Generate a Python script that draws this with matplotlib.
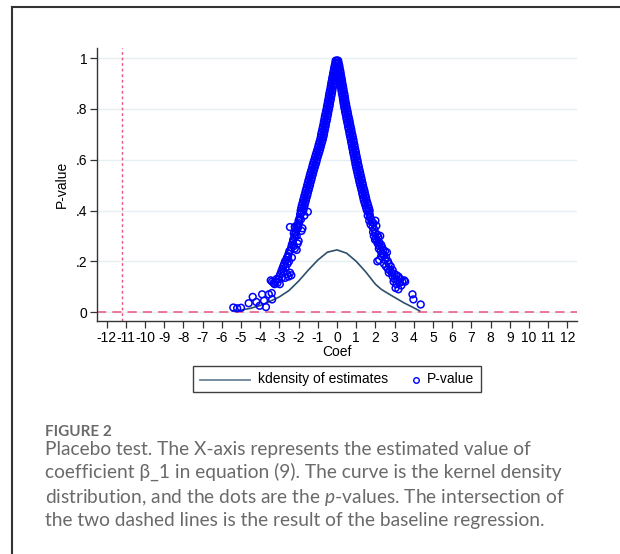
import matplotlib
matplotlib.use("Agg")
import matplotlib.pyplot as plt
from matplotlib.lines import Line2D
from matplotlib.offsetbox import DrawingArea, TextArea, HPacker, AnchoredOffsetbox

# ---------------- data ----------------
# upper part of the p-value cloud: p levels with two coefficient readings each
upper_p = [0.99, 0.98, 0.97, 0.96, 0.95, 0.94, 0.93, 0.92, 0.91, 0.90,
           0.89, 0.88, 0.87, 0.86, 0.85, 0.84, 0.83, 0.82, 0.81, 0.80,
           0.79, 0.78, 0.77, 0.76, 0.75, 0.74, 0.73, 0.72, 0.71, 0.70,
           0.69, 0.68, 0.67, 0.66, 0.65, 0.64, 0.63, 0.62, 0.61, 0.60,
           0.59, 0.58, 0.57, 0.56, 0.55, 0.54, 0.53, 0.52, 0.51, 0.50,
           0.49, 0.48, 0.47, 0.46, 0.45, 0.44, 0.43, 0.42, 0.41, 0.40]
left_in = [0.02, -0.01, -0.02, -0.04, -0.06, -0.08, -0.11, -0.13, -0.15, -0.18,
           -0.20, -0.23, -0.25, -0.27, -0.30, -0.32, -0.35, -0.37, -0.39, -0.42,
           -0.45, -0.47, -0.50, -0.52, -0.55, -0.58, -0.60, -0.63, -0.66, -0.68,
           -0.71, -0.74, -0.78, -0.82, -0.85, -0.89, -0.93, -0.97, -1.01, -1.05,
           -1.08, -1.12, -1.16, -1.20, -1.24, -1.27, -1.31, -1.34, -1.38, -1.41,
           -1.45, -1.48, -1.52, -1.55, -1.59, -1.62, -1.66, -1.69, -1.72, -1.76]
left_out = [-0.07, -0.09, -0.12, -0.15, -0.17, -0.20, -0.22, -0.25, -0.27, -0.30,
            -0.32, -0.34, -0.37, -0.40, -0.42, -0.44, -0.47, -0.49, -0.52, -0.54,
            -0.57, -0.60, -0.63, -0.65, -0.68, -0.70, -0.73, -0.76, -0.79, -0.82,
            -0.84, -0.87, -0.91, -0.95, -0.98, -1.02, -1.06, -1.10, -1.14, -1.18,
            -1.22, -1.26, -1.29, -1.33, -1.37, -1.41, -1.44, -1.48, -1.51, -1.55,
            -1.58, -1.62, -1.65, -1.69, -1.72, -1.76, -1.79, -1.83, -1.86, -1.89]
right_in = [-0.02, 0.00, 0.02, 0.04, 0.06, 0.08, 0.11, 0.13, 0.15, 0.17,
            0.20, 0.22, 0.24, 0.26, 0.29, 0.31, 0.33, 0.35, 0.37, 0.40,
            0.42, 0.45, 0.48, 0.50, 0.53, 0.56, 0.58, 0.61, 0.64, 0.66,
            0.69, 0.72, 0.74, 0.77, 0.79, 0.82, 0.84, 0.87, 0.90, 0.92,
            0.95, 0.97, 1.00, 1.03, 1.06, 1.09, 1.12, 1.15, 1.18, 1.21,
            1.25, 1.28, 1.31, 1.34, 1.37, 1.40, 1.44, 1.48, 1.52, 1.56]
right_out = [0.06, 0.09, 0.12, 0.14, 0.17, 0.19, 0.21, 0.24, 0.26, 0.28,
             0.31, 0.33, 0.35, 0.38, 0.40, 0.42, 0.44, 0.47, 0.49, 0.52,
             0.55, 0.57, 0.60, 0.63, 0.66, 0.68, 0.71, 0.74, 0.76, 0.79,
             0.82, 0.85, 0.87, 0.90, 0.92, 0.95, 0.98, 1.00, 1.03, 1.06,
             1.08, 1.11, 1.14, 1.17, 1.20, 1.23, 1.26, 1.29, 1.32, 1.35,
             1.38, 1.42, 1.45, 1.48, 1.51, 1.54, 1.58, 1.62, 1.66, 1.70]
# lower, scattered part of the cloud
low_coef = [-1.86, -1.92, -1.70, -1.52, -1.95, -1.88, -2.00, -1.98, -2.05, -2.02,
            -2.12, -2.08, -2.20, -1.80, -1.85, -2.15, -2.18, -2.25, -2.10, -2.22,
            -2.28, -2.00, -2.05, -2.30, -2.45, -2.35, -2.38, -2.20, -2.25, -2.42,
            -2.48, -2.10, -2.52, -2.55, -2.60, -2.35, -2.65, -2.70, -2.50, -2.75,
            -2.58, -2.80, -2.68, -2.85, -2.90, -2.78, -2.45, -2.38, -2.95, -3.00,
            -2.88, -3.05, -3.15, -3.20, -3.10, -3.30, -3.38, -3.25, -2.98, -3.45,
            -2.60, -2.70, -2.52, -3.40, -3.38, -3.55, -3.70, -3.80, -3.90, -4.03,
            -4.20, -4.39, -4.60, -5.00, -5.20, -5.40,
            1.65, 1.70, 1.60, 1.72, 1.78, 1.68, 1.82, 1.75, 1.90, 2.00,
            1.85, 2.05, 1.95, 1.88, 2.00, 2.10, 1.92, 2.15, 2.03, 2.25,
            2.08, 2.20, 1.98, 2.12, 2.30, 2.20, 2.35, 2.18, 2.40, 2.28,
            2.50, 2.60, 2.35, 2.45, 2.30, 2.55, 2.10, 2.20, 2.50, 2.65,
            2.45, 2.70, 2.55, 2.80, 2.65, 2.75, 2.90, 2.70, 2.85, 3.00,
            3.10, 2.90, 3.20, 3.00, 3.15, 3.30, 2.95, 3.25, 3.40, 3.50,
            3.55, 3.10, 3.35, 3.05, 3.20, 3.93, 3.98, 4.36]
low_p = [0.39, 0.385, 0.38, 0.395, 0.37, 0.365, 0.36, 0.35, 0.345, 0.335,
         0.34, 0.325, 0.335, 0.33, 0.32, 0.315, 0.305, 0.31, 0.30, 0.295,
         0.285, 0.28, 0.27, 0.275, 0.335, 0.265, 0.255, 0.25, 0.26, 0.245,
         0.24, 0.245, 0.23, 0.22, 0.215, 0.215, 0.205, 0.20, 0.20, 0.19,
         0.19, 0.18, 0.175, 0.17, 0.16, 0.16, 0.155, 0.145, 0.15, 0.14,
         0.135, 0.13, 0.13, 0.12, 0.115, 0.115, 0.12, 0.11, 0.11, 0.125,
         0.15, 0.135, 0.14, 0.075, 0.05, 0.07, 0.02, 0.045, 0.07, 0.025,
         0.04, 0.06, 0.035, 0.017, 0.015, 0.018,
         0.395, 0.385, 0.38, 0.375, 0.365, 0.36, 0.355, 0.345, 0.35, 0.36,
         0.335, 0.34, 0.325, 0.315, 0.31, 0.305, 0.30, 0.295, 0.29, 0.30,
         0.28, 0.275, 0.285, 0.27, 0.265, 0.26, 0.255, 0.25, 0.245, 0.24,
         0.24, 0.235, 0.23, 0.225, 0.22, 0.215, 0.20, 0.205, 0.205, 0.20,
         0.19, 0.19, 0.18, 0.18, 0.17, 0.165, 0.165, 0.155, 0.155, 0.15,
         0.145, 0.14, 0.14, 0.13, 0.125, 0.13, 0.12, 0.115, 0.12, 0.125,
         0.12, 0.11, 0.105, 0.095, 0.09, 0.07, 0.05, 0.03]
# kernel density of the estimates
kd_coef = [-5.45, -5.0, -4.5, -4.0, -3.5, -3.0, -2.5, -2.0, -1.5, -1.0, -0.5,
           0.0, 0.5, 1.0, 1.5, 2.0, 2.3, 2.6, 3.0, 3.5, 4.0, 4.3]
kd_dens = [0.004, 0.008, 0.015, 0.026, 0.042, 0.060, 0.085, 0.122, 0.165, 0.205,
           0.236, 0.245, 0.232, 0.200, 0.158, 0.110, 0.090, 0.076, 0.058, 0.036,
           0.017, 0.005]
baseline_coef = -11.2
xticks = list(range(-12, 13))
yticks = [0, 0.2, 0.4, 0.6, 0.8, 1.0]
yticklabels = ["0", ".2", ".4", ".6", ".8", "1"]
legend_labels = ['kdensity of estimates', 'P-value']

# ---------------- figure ----------------
plt.rcParams['font.family'] = ['Liberation Sans', 'DejaVu Sans']
plt.rcParams['mathtext.fontset'] = 'custom'
plt.rcParams['mathtext.it'] = 'Lato:italic'
plt.rcParams['mathtext.rm'] = 'Lato'
fig = plt.figure(figsize=(6.2, 5.54), dpi=100)
ax = fig.add_axes([97/620, 1-321/554, (577-97)/620, (321-48)/554])

for y in yticks:
    ax.axhline(y, color='#e6eff1', lw=1.0, zorder=0)

pts_c = left_in + left_out + right_in + right_out + low_coef
pts_p = upper_p * 4 + low_p
ax.scatter(pts_c, pts_p, s=24, facecolors='none', edgecolors='#0000ff',
           linewidths=1.1, zorder=3)
ax.plot(kd_coef, kd_dens, color='#2e4f6c', lw=1.2, zorder=2)

ax.axhline(0, color='#e8557c', lw=1.1, ls=(0, (6, 4)), zorder=1)
ax.axvline(baseline_coef, color='#e8557c', lw=1.0, ls=(0, (2, 2)), zorder=1)

ax.set_xlim(-12.5, 12.5)
ax.set_ylim(-0.035, 1.04)
ax.set_xticks(xticks)
ax.set_xticklabels([str(t) for t in xticks])
ax.set_yticks(yticks)
ax.set_yticklabels(yticklabels)
for s in ['top', 'right']:
    ax.spines[s].set_visible(False)
for s in ['left', 'bottom']:
    ax.spines[s].set_color('#333333')
    ax.spines[s].set_linewidth(1.0)
ax.tick_params(axis='both', direction='out', length=5, width=0.9,
               color='#333333', labelsize=10, pad=2)
ax.set_xlabel('Coef', fontsize=10, labelpad=0)
ax.set_ylabel('P-value', fontsize=10, labelpad=5)

# legend built from offset boxes (line sample, text, marker, text)
da1 = DrawingArea(36, 10, 0, 0)
da1.add_artist(Line2D([0, 36], [4, 4], color='#6b8399', lw=1.3))
t1 = TextArea(legend_labels[0], textprops=dict(fontsize=10, color='black'))
da2 = DrawingArea(6, 10, 0, 0)
da2.add_artist(Line2D([3], [4], ls='none', marker='o', markersize=4,
                      markerfacecolor='none', markeredgecolor='#0000ff',
                      markeredgewidth=1))
t2 = TextArea(legend_labels[1], textprops=dict(fontsize=10, color='black'))
g1 = HPacker(children=[da1, t1], sep=6, align='center', pad=0)
g2 = HPacker(children=[da2, t2], sep=5, align='center', pad=0)
box = HPacker(children=[g1, g2], sep=17, align='center', pad=0)
anch = AnchoredOffsetbox(loc='center', child=box, pad=0.45, borderpad=0,
                         frameon=True, bbox_to_anchor=(337/620, 1-379/554),
                         bbox_transform=fig.transFigure)
anch.patch.set_boxstyle('square', pad=0)
anch.patch.set_edgecolor('#404040')
anch.patch.set_linewidth(1.0)
fig.add_artist(anch)

# card border
fig.add_artist(Line2D([12/620, 12/620], [0, 1-7/554], color='#333333', lw=1.5,
                      transform=fig.transFigure))
fig.add_artist(Line2D([12/620, 1], [1-7/554, 1-7/554], color='#333333', lw=1.5,
                      transform=fig.transFigure))

# caption
fig.text(45/620, 1-432/554, 'FIGURE 2', fontsize=11, color='#6a6a6a',
         family=['Lato', 'DejaVu Sans'], fontweight='bold', va='center')
caption = ("Placebo test. The X-axis represents the estimated value of\n"
           "coefficient β_1 in equation (9). The curve is the kernel density\n"
           "distribution, and the dots are the $\\it{p}$-values. The intersection of\n"
           "the two dashed lines is the result of the baseline regression.")
fig.text(45/620, 1-441/554, caption, fontsize=13.8, color='#6a6a6a',
         family=['Lato', 'DejaVu Sans'], va='top', linespacing=1.33)

fig.savefig('out.png', dpi=100, facecolor='white')
